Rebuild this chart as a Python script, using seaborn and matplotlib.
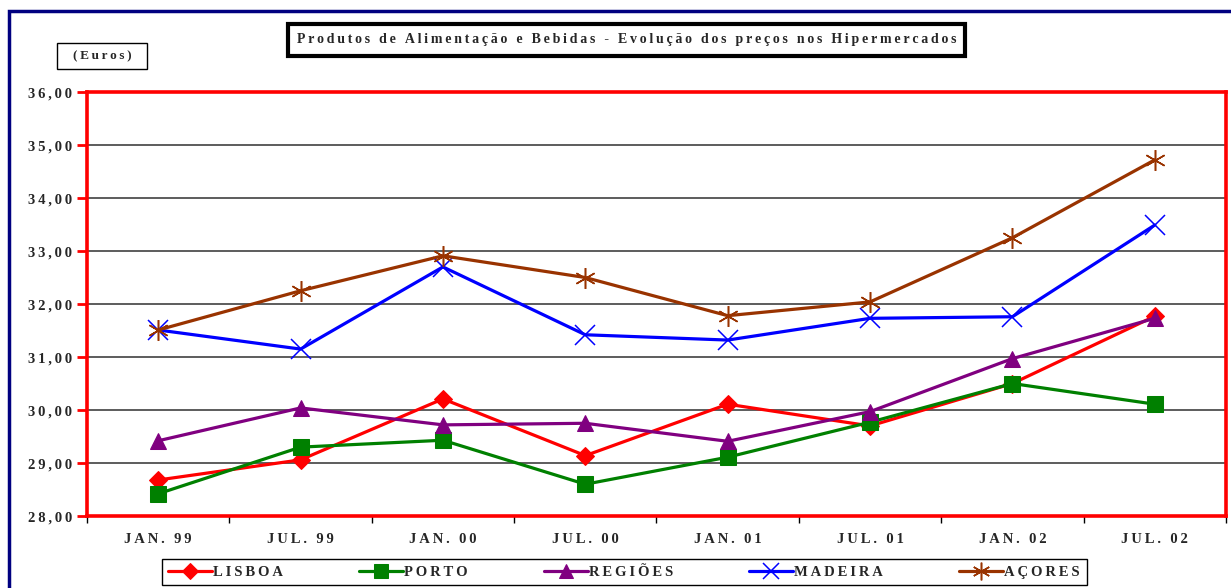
import matplotlib
matplotlib.use("Agg")
import matplotlib.pyplot as plt
from matplotlib.patches import Rectangle
from matplotlib.ticker import FixedLocator
import pandas as pd
import seaborn as sns

periods = ["JAN. 99", "JUL. 99", "JAN. 00", "JUL. 00",
           "JAN. 01", "JUL. 01", "JAN. 02", "JUL. 02"]
lisboa = [28.68, 29.06, 30.21, 29.14, 30.11, 29.70, 30.50, 31.77]
porto = [28.42, 29.30, 29.43, 28.60, 29.11, 29.77, 30.50, 30.11]
regioes = [29.42, 30.04, 29.72, 29.75, 29.41, 29.97, 30.97, 31.73]
madeira = [31.51, 31.15, 32.70, 31.42, 31.32, 31.73, 31.76, 33.49]
acores = [31.51, 32.25, 32.91, 32.50, 31.78, 32.04, 33.25, 34.72]

names = ["LISBOA", "PORTO", "REGIÕES", "MADEIRA", "AÇORES"]
title = "Produtos de Alimentação e Bebidas - Evolução dos preços nos Hipermercados"


def spaced(s):
    # excel-ish letter spacing
    return "\u2009".join(s)


def main():
    sns.set_theme(style="white")
    plt.rcParams["font.family"] = ["Liberation Serif", "DejaVu Serif"]
    plt.rcParams["font.weight"] = "bold"

    df = pd.DataFrame({"period": periods * 5,
                       "pos": list(range(len(periods))) * 5,
                       "serie": [n for n in names for _ in periods],
                       "price": lisboa + porto + regioes + madeira + acores})

    styles = {
        "LISBOA": dict(color="#FF0000", marker="D", markersize=9.5),
        "PORTO": dict(color="#008000", marker="s", markersize=11.5),
        "REGIÕES": dict(color="#800080", marker="^", markersize=12),
        "MADEIRA": dict(color="#0000FF", marker="x", markersize=14,
                        markeredgewidth=1.1),
        "AÇORES": dict(color="#993300", marker=(6, 2, 0), markersize=15,
                       markeredgewidth=1.1),
    }

    fig = plt.figure(figsize=(12.31, 5.88), dpi=100)
    ax = fig.add_axes([0.0707, 0.1224, 0.9252, 0.7211])

    for n in names:
        sub = df[df["serie"] == n]
        sns.lineplot(data=sub, x="pos", y="price", ax=ax, label=spaced(n),
                     linewidth=2.3, sort=False, legend=False,
                     markeredgecolor=styles[n]["color"], **styles[n])

    ax.set_xlim(-0.5, len(periods) - 0.5)
    ax.set_ylim(28, 36)
    ax.set_xlabel("")
    ax.set_ylabel("")

    ax.yaxis.grid(True, color="#303030", linewidth=1.1)
    ax.xaxis.grid(False)
    ax.set_axisbelow(True)
    for s in ax.spines.values():
        s.set_color("#FF0000")
        s.set_linewidth(2.6)

    ax.set_yticks(range(28, 37))
    ax.set_yticklabels([spaced(f"{v},00") for v in range(28, 37)],
                       fontsize=10.5, fontweight="bold")
    ax.tick_params(axis="y", left=True, length=7, width=2, color="#FF0000",
                   pad=4)

    ax.set_xticks(range(len(periods)))
    ax.set_xticklabels([spaced(p) for p in periods], fontsize=10.5,
                       fontweight="bold")
    ax.xaxis.set_minor_locator(FixedLocator(
        [i - 0.5 for i in range(len(periods) + 1)]))
    ax.tick_params(axis="x", which="major", bottom=False, pad=6)
    ax.tick_params(axis="x", which="minor", bottom=True, length=5, width=1,
                   color="black")

    fig.text(0.509, 0.932, spaced(title), ha="center", va="center",
             fontsize=10, fontweight="bold",
             bbox=dict(boxstyle="square,pad=0.65", fc="white", ec="black",
                       lw=3))

    # (Euros) label box
    fig.patches.append(Rectangle((57 / 1231, 1 - 69 / 588), 90 / 1231,
                                 26 / 588, transform=fig.transFigure,
                                 fill=False, ec="black", lw=1))
    fig.text(102 / 1231, 1 - 56 / 588, spaced("(Euros)"), ha="center",
             va="center", fontsize=9.5, fontweight="bold")

    handles, labels = ax.get_legend_handles_labels()
    leg = fig.legend(handles, labels, loc="center", ncol=5,
                     bbox_to_anchor=(0.507, 0.027), fontsize=10.5,
                     frameon=True, fancybox=False, edgecolor="black",
                     framealpha=1, handlelength=3.0, columnspacing=5.2,
                     handletextpad=0.1, markerscale=0.85, borderpad=0.45)
    leg.get_frame().set_linewidth(1)
    for t in leg.get_texts():
        t.set_fontweight("bold")

    fig.patches.append(Rectangle((0.0073, -0.5), 2, 0.981 + 0.5,
                                 transform=fig.transFigure, fill=False,
                                 ec="#000080", lw=2.5))

    fig.savefig("out.png", dpi=100, facecolor="white")
    plt.close(fig)


if __name__ == "__main__":
    main()
